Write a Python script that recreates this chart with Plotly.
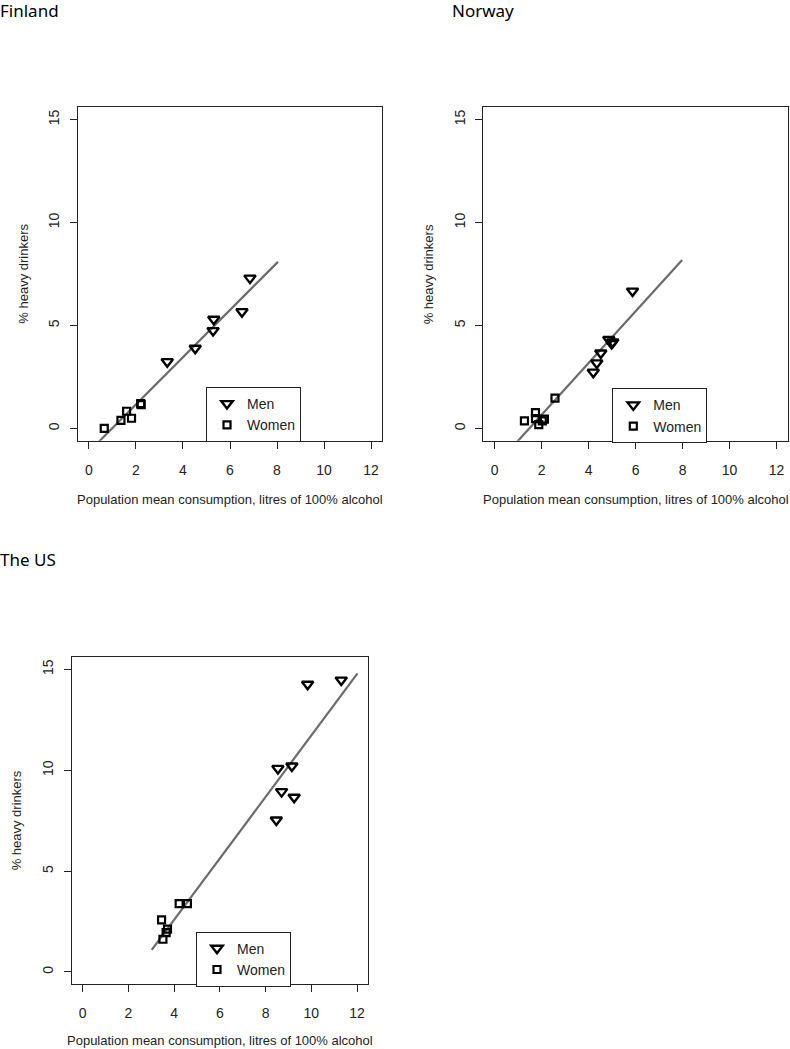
import plotly.graph_objects as go

# ---------------- data ----------------
countries = ["Finland", "Norway", "The US"]

fin_men_x = [6.85, 6.51, 5.31, 5.28, 4.52, 3.33]
fin_men_y = [7.30, 5.67, 5.30, 4.75, 3.89, 3.24]
fin_women_x = [2.22, 2.20, 1.60, 1.81, 1.36, 0.65]
fin_women_y = [1.15, 1.20, 0.83, 0.49, 0.39, 0.00]
fin_line_x = [0.0, 8.04]
fin_line_y = [-1.13, 8.09]

nor_men_x = [5.87, 4.86, 5.03, 4.98, 4.52, 4.35, 4.20]
nor_men_y = [6.67, 4.32, 4.20, 4.12, 3.66, 3.18, 2.73]
nor_women_x = [2.57, 1.74, 1.74, 2.12, 2.03, 1.27, 1.88]
nor_women_y = [1.47, 0.76, 0.47, 0.45, 0.36, 0.36, 0.18]
nor_line_x = [0.0, 7.98]
nor_line_y = [-1.86, 8.18]

us_men_x = [11.31, 9.84, 9.15, 8.54, 8.70, 9.25, 8.47]
us_men_y = [14.47, 14.26, 10.21, 10.09, 8.94, 8.66, 7.53]
us_women_x = [4.22, 4.58, 3.45, 3.71, 3.65, 3.51]
us_women_y = [3.39, 3.39, 2.58, 2.12, 1.95, 1.62]
us_line_x = [3.02, 12.02]
us_line_y = [1.09, 14.80]

x_ticks = [0, 2, 4, 6, 8, 10, 12]
y_ticks = [0, 5, 10, 15]
x_title = "Population mean consumption, litres of 100% alcohol"
y_title = "% heavy drinkers"
series_names = ["Men", "Women"]

# ---------------- layout geometry ----------------
W, H = 790, 1049
panels = [
    dict(name=countries[0], men=(fin_men_x, fin_men_y), women=(fin_women_x, fin_women_y),
         line=(fin_line_x, fin_line_y), box=(77.7, 107.3, 382.3, 440.7),
         legend_pos=(206, 387), title_pos=(0, 0), xt_shift=-59),
    dict(name=countries[1], men=(nor_men_x, nor_men_y), women=(nor_women_x, nor_women_y),
         line=(nor_line_x, nor_line_y), box=(483.3, 107.3, 787.9, 440.7),
         legend_pos=(612.3, 388.3), title_pos=(452, 0), xt_shift=-59),
    dict(name=countries[2], men=(us_men_x, us_men_y), women=(us_women_x, us_women_y),
         line=(us_line_x, us_line_y), box=(71.7, 657.3, 368.0, 984.0),
         legend_pos=(196, 931.7), title_pos=(0, 549), xt_shift=-56),
]

SANS = "Liberation Sans, Arial, sans-serif"
TICK_FONT = dict(family=SANS, size=14, color="#222")
AX_FONT = dict(family=SANS, size=13, color="#222")
fig = go.Figure()
layout = dict(width=W, height=H, margin=dict(l=0, r=0, t=0, b=0),
              paper_bgcolor="white", plot_bgcolor="white", showlegend=True)
annotations = []

for i, p in enumerate(panels):
    n = "" if i == 0 else str(i + 1)
    xa, ya = "x" + n, "y" + n
    leg = "legend" + n
    x0, y0, x1, y1 = p["box"]
    axis_common = dict(showgrid=False, zeroline=False, showline=True, mirror=True,
                       linecolor="#222", linewidth=1, ticks="outside", ticklen=7,
                       tickcolor="#222", tickwidth=1, tickfont=TICK_FONT)
    layout["xaxis" + n] = dict(axis_common, domain=[x0 / W, x1 / W], range=[-0.48, 12.48],
                               tickvals=x_ticks, anchor=ya, ticklabelstandoff=9)
    layout["yaxis" + n] = dict(axis_common, domain=[1 - y1 / H, 1 - y0 / H], range=[-0.6, 15.6],
                               tickvals=y_ticks, anchor=xa, tickangle=-90, ticklabelstandoff=5)
    lx, ly = p["legend_pos"]
    layout[leg] = dict(x=lx / W, y=1 - ly / H, xanchor="left", yanchor="top",
                       bordercolor="#222", borderwidth=1, bgcolor="white",
                       font=dict(family=SANS, size=14, color="#222"),
                       tracegroupgap=0)

    fig.add_trace(go.Scatter(x=p["line"][0], y=p["line"][1], mode="lines",
                             line=dict(color="#6b6b6b", width=2.2), xaxis=xa, yaxis=ya,
                             showlegend=False, hoverinfo="skip"))
    fig.add_trace(go.Scatter(x=p["men"][0], y=p["men"][1], mode="markers", name=series_names[0],
                             marker=dict(symbol="triangle-down-open", size=10, color="black",
                                         line=dict(width=2.4, color="black")),
                             xaxis=xa, yaxis=ya, legend=leg))
    fig.add_trace(go.Scatter(x=p["women"][0], y=p["women"][1], mode="markers", name=series_names[1],
                             marker=dict(symbol="square-open", size=7, color="black",
                                         line=dict(width=2.2, color="black")),
                             xaxis=xa, yaxis=ya, legend=leg))

    # axis titles
    annotations.append(dict(text=x_title, xref=xa + " domain", yref=ya + " domain", x=0.5, y=0,
                            xanchor="center", yanchor="middle", yshift=p["xt_shift"],
                            showarrow=False, font=AX_FONT))
    annotations.append(dict(text=y_title, xref=xa + " domain", yref=ya + " domain", x=0, y=0.5,
                            xanchor="center", yanchor="middle", xshift=-55, textangle=-90,
                            showarrow=False, font=AX_FONT))
    # panel heading
    tx, ty = p["title_pos"]
    annotations.append(dict(text=p["name"], xref="paper", yref="paper", x=tx / W, y=1 - ty / H,
                            xanchor="left", yanchor="top", xshift=-2, yshift=3, showarrow=False,
                            font=dict(family="Noto Sans, Open Sans, sans-serif", size=17, color="black")))

layout["annotations"] = annotations
fig.update_layout(**layout)
fig.write_html("out.html", config={"displayModeBar": False},
               post_script="document.body.style.margin='0px';document.body.style.overflow='hidden';")
